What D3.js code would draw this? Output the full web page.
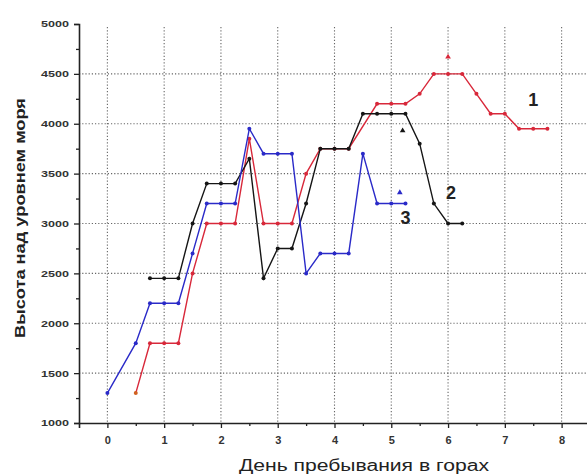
<!DOCTYPE html>
<html><head><meta charset="utf-8">
<script src="https://cdn.jsdelivr.net/npm/d3@7"></script>
<style>body{margin:0;background:#fff}svg{display:block}</style>
</head><body>
<svg id="c" width="587" height="476"></svg>
<script>
// Series 1 (red)
const days1 = [0.5,0.75,1,1.25,1.5,1.75,2,2.25,2.5,2.75,3,3.25,3.5,3.75,4,4.25,4.75,5,5.25,5.5,5.75,6,6.25,6.5,6.75,7,7.25,7.5,7.75];
const alt1  = [1300,1800,1800,1800,2500,3000,3000,3000,3850,3000,3000,3000,3500,3750,3750,3750,4200,4200,4200,4300,4500,4500,4500,4300,4100,4100,3950,3950,3950];
// Series 2 (black)
const days2 = [0.75,1,1.25,1.5,1.75,2,2.25,2.5,2.75,3,3.25,3.5,3.75,4,4.25,4.5,4.75,5,5.25,5.5,5.75,6,6.25];
const alt2  = [2450,2450,2450,3000,3400,3400,3400,3650,2450,2750,2750,3200,3750,3750,3750,4100,4100,4100,4100,3800,3200,3000,3000];
// Series 3 (blue)
const days3 = [0,0.5,0.75,1,1.25,1.5,1.75,2,2.25,2.5,2.75,3,3.25,3.5,3.75,4,4.25,4.5,4.75,5,5.25];
const alt3  = [1300,1800,2200,2200,2200,2700,3200,3200,3200,3950,3700,3700,3700,2500,2700,2700,2700,3700,3200,3200,3200];
// isolated marks
const extraDays = [6, 5.2, 5.15];
const extraAlt  = [4670, 3930, 3310];
const seriesLabels = ["1","2","3"];
const labelDays = [7.5, 6.05, 5.25];
const labelAlt  = [4180, 3250, 2990];
const xTicks = [0,1,2,3,4,5,6,7,8];
const yTicks = [1000,1500,2000,2500,3000,3500,4000,4500,5000];
const xTitle = "День пребывания в горах";
const yTitle = "Высота над уровнем моря";

const colors = ["#d8283a","#151515","#2a2ac8"];
const svg = d3.select("#c");
const x = d3.scaleLinear().domain([-0.5, 8.5]).range([79, 590]);
const y = d3.scaleLinear().domain([1000, 5000]).range([423, 24]);

// grid
const g = svg.append("g");
g.selectAll(".vg").data(xTicks).join("line")
  .attr("x1", d => x(d)).attr("x2", d => x(d))
  .attr("y1", y(5000) + 3).attr("y2", y(1000))
  .attr("stroke", "#666").attr("stroke-width", 1.1).attr("stroke-dasharray", "1.2,2");
g.selectAll(".hg").data(yTicks.filter(d => d > 1000 && d < 5000)).join("line")
  .attr("x1", x(-0.5)).attr("x2", 587)
  .attr("y1", d => y(d)).attr("y2", d => y(d))
  .attr("stroke", "#666").attr("stroke-width", 1.1).attr("stroke-dasharray", "1.2,2");

// axes
const xAxis = svg.append("g").attr("transform", `translate(0,${y(1000)})`)
  .call(d3.axisBottom(x).tickValues(xTicks).tickFormat(d3.format("d")).tickSize(5).tickPadding(8));
svg.append("g").attr("transform", `translate(0,${y(1000)})`)
  .call(d3.axisBottom(x).tickValues(d3.range(-0.5, 8.6, 1).filter(v => v > -0.5)).tickFormat("").tickSize(3))
  .select(".domain").remove();
const yAxis = svg.append("g").attr("transform", `translate(${x(-0.5)},0)`)
  .call(d3.axisLeft(y).tickValues(yTicks).tickFormat(d3.format("d")).tickSize(5).tickPadding(5));
svg.append("g").attr("transform", `translate(${x(-0.5)},0)`)
  .call(d3.axisLeft(y).tickValues(d3.range(1250, 5000, 500)).tickFormat("").tickSize(3))
  .select(".domain").remove();
svg.selectAll(".domain").attr("stroke", "#222").attr("stroke-width", 1.6);
svg.selectAll(".tick line").attr("stroke", "#222").attr("stroke-width", 1.3);
xAxis.selectAll("text").attr("font-family", "Arial, Liberation Sans, sans-serif")
  .attr("font-size", 11).attr("font-weight", "bold").attr("fill", "#333");
yAxis.selectAll("text").attr("font-family", "Arial, Liberation Sans, sans-serif")
  .attr("font-size", 9).attr("font-weight", "bold").attr("fill", "#333")
  .attr("textLength", 28).attr("lengthAdjust", "spacingAndGlyphs");

// series
const series = [[days1, alt1], [days2, alt2], [days3, alt3]];
const line = d3.line().x(d => x(d[0])).y(d => y(d[1]));
series.forEach(([ds, as], i) => {
  const pts = ds.map((d, j) => [d, as[j]]);
  svg.append("path").datum(pts).attr("d", line)
    .attr("fill", "none").attr("stroke", colors[i]).attr("stroke-width", 1.4);
  svg.append("g").selectAll("circle").data(pts).join("circle")
    .attr("cx", d => x(d[0])).attr("cy", d => y(d[1])).attr("r", 2)
    .attr("fill", (d, j) => (i === 0 && j === 0) ? "#d06020" : colors[i]);
});

// isolated marks
svg.append("g").selectAll("path").data(extraDays.map((d, i) => [d, extraAlt[i], i])).join("path")
  .attr("transform", d => `translate(${x(d[0])},${y(d[1])})`)
  .attr("d", d3.symbol().type(d3.symbolTriangle).size(14))
  .attr("fill", d => colors[d[2]]);

// series labels
svg.append("g").selectAll("text").data(seriesLabels).join("text")
  .attr("x", (d, i) => x(labelDays[i])).attr("y", (d, i) => y(labelAlt[i]))
  .attr("text-anchor", "middle")
  .attr("font-family", "Arial, Liberation Sans, sans-serif").attr("font-size", 18)
  .attr("font-weight", "bold").attr("fill", "#222").text(d => d);

// titles
svg.append("text").attr("x", 364).attr("y", 471).attr("text-anchor", "middle")
  .attr("font-family", "Arial, Liberation Sans, sans-serif").attr("font-size", 16)
  .attr("fill", "#222").attr("textLength", 250).attr("lengthAdjust", "spacingAndGlyphs")
  .text(xTitle);
svg.append("text").attr("transform", "translate(25,218) rotate(-90)").attr("text-anchor", "middle")
  .attr("font-family", "Arial, Liberation Sans, sans-serif").attr("font-size", 14).attr("font-weight", "bold")
  .attr("fill", "#222").attr("textLength", 240).attr("lengthAdjust", "spacingAndGlyphs")
  .text(yTitle);
</script>
</body></html>
